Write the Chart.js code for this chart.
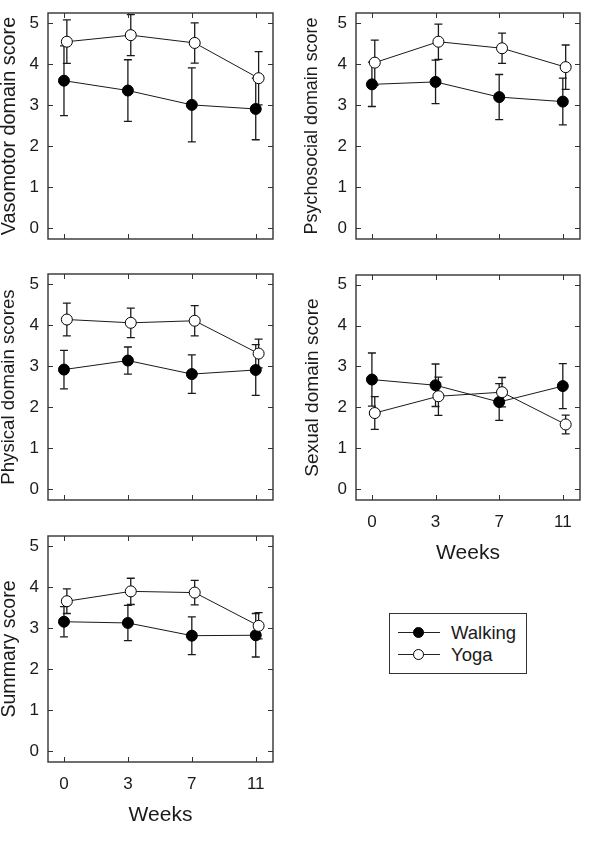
<!DOCTYPE html>
<html><head><meta charset="utf-8">
<script src="https://cdn.jsdelivr.net/npm/chart.js@4/dist/chart.umd.min.js"></script>
<style>
html,body{margin:0;padding:0;background:#fff;}
body{width:593px;height:848px;position:relative;overflow:hidden;font-family:"Liberation Sans",Arial,sans-serif;color:#1a1a1a;}
.pc{position:absolute;}
#legend{position:absolute;left:389px;top:613px;width:138px;height:61px;border:1px solid #333;box-sizing:border-box;}
.lrow{position:absolute;left:0;width:136px;height:22px;}
.lline{position:absolute;left:8px;width:42px;top:10px;height:0;border-top:1px solid #222;}
.ldot{position:absolute;left:23px;top:5px;width:11px;height:11px;border-radius:50%;box-sizing:border-box;border:1px solid #000;}
.ltxt{position:absolute;left:61px;top:0;font-size:18.5px;line-height:21px;}
</style></head><body>
<canvas id="c1" class="pc"></canvas>
<canvas id="c2" class="pc"></canvas>
<canvas id="c3" class="pc"></canvas>
<canvas id="c4" class="pc"></canvas>
<canvas id="c5" class="pc"></canvas>
<div id="legend">
  <div class="lrow" style="top:8px"><div class="lline"></div><div class="ldot" style="background:#000"></div><div class="ltxt">Walking</div></div>
  <div class="lrow" style="top:30px"><div class="lline"></div><div class="ldot" style="background:#fff"></div><div class="ltxt">Yoga</div></div>
</div>
<script>
// ---- data ----
const weekLabels = ['0', '3', '7', '11'];
const yTickValues = [0, 1, 2, 3, 4, 5];
const seriesNames = ['Walking', 'Yoga'];

const vasoWalk = [3.59, 3.35, 3.00, 2.90];
const vasoWalkErr = [0.85, 0.75, 0.90, 0.75];
const vasoYoga = [4.54, 4.70, 4.51, 3.65];
const vasoYogaErr = [0.53, 0.50, 0.49, 0.65];

const psychoWalk = [3.50, 3.56, 3.19, 3.08];
const psychoWalkErr = [0.54, 0.53, 0.55, 0.57];
const psychoYoga = [4.03, 4.54, 4.38, 3.92];
const psychoYogaErr = [0.55, 0.43, 0.37, 0.54];

const physWalk = [2.91, 3.13, 2.80, 2.90];
const physWalkErr = [0.47, 0.33, 0.47, 0.62];
const physYoga = [4.13, 4.05, 4.10, 3.30];
const physYogaErr = [0.40, 0.36, 0.37, 0.35];

const sexWalk = [2.68, 2.54, 2.13, 2.52];
const sexWalkErr = [0.65, 0.52, 0.45, 0.55];
const sexYoga = [1.86, 2.27, 2.37, 1.58];
const sexYogaErr = [0.40, 0.47, 0.36, 0.23];

const sumWalk = [3.15, 3.12, 2.81, 2.82];
const sumWalkErr = [0.37, 0.43, 0.46, 0.53];
const sumYoga = [3.65, 3.89, 3.86, 3.05];
const sumYogaErr = [0.30, 0.32, 0.30, 0.32];

// ---- styling / layout ----
const INK = '#1a1a1a';
const FONT = '"Liberation Sans", Arial, sans-serif';
const YOGA_SHIFT = 0.045;

const panels = [
  {id:'c1', left:0,   top:0,   w:296, h:252, box:{l:48,t:13,r:273,b:239}, title:'Vasomotor domain score', titleSize:19.8, walk:vasoWalk, walkErr:vasoWalkErr, yoga:vasoYoga, yogaErr:vasoYogaErr, showX:false},
  {id:'c2', left:303, top:0,   w:290, h:252, box:{l:53,t:13,r:277,b:239}, title:'Psychosocial domain score', titleSize:17.9, walk:psychoWalk, walkErr:psychoWalkErr, yoga:psychoYoga, yogaErr:psychoYogaErr, showX:false},
  {id:'c3', left:0,   top:260, w:296, h:252, box:{l:48,t:14,r:273,b:240}, title:'Physical domain scores', titleSize:18.6, walk:physWalk, walkErr:physWalkErr, yoga:physYoga, yogaErr:physYogaErr, showX:false},
  {id:'c4', left:303, top:260, w:290, h:310, box:{l:53,t:15,r:277,b:240}, title:'Sexual domain score', titleSize:19.1, walk:sexWalk, walkErr:sexWalkErr, yoga:sexYoga, yogaErr:sexYogaErr, showX:true, weeksPad:6.5},
  {id:'c5', left:0,   top:520, w:296, h:328, box:{l:48,t:16,r:273,b:242}, title:'Summary score', titleSize:19.6, walk:sumWalk, walkErr:sumWalkErr, yoga:sumYoga, yogaErr:sumYogaErr, showX:true, weeksPad:22.5}
];

const framePlugin = {
  id: 'frameAndErrors',
  beforeDatasetsDraw(chart) {
    const ctx = chart.ctx;
    const xs = chart.scales.x, ys = chart.scales.y;
    chart.data.datasets.forEach((ds, di) => {
      if (!chart.isDatasetVisible(di)) return;
      ctx.save();
      ctx.strokeStyle = INK;
      ctx.lineWidth = 1.3;
      ds.data.forEach((p, i) => {
        const e = ds.errorBars[i];
        const px = xs.getPixelForValue(p.x);
        const y1 = ys.getPixelForValue(p.y + e);
        const y2 = ys.getPixelForValue(p.y - e);
        ctx.beginPath();
        ctx.moveTo(px, y1); ctx.lineTo(px, y2);
        ctx.moveTo(px - 4, y1); ctx.lineTo(px + 4, y1);
        ctx.moveTo(px - 4, y2); ctx.lineTo(px + 4, y2);
        ctx.stroke();
      });
      ctx.restore();
    });
  },
  afterDraw(chart) {
    const ctx = chart.ctx;
    const a = chart.chartArea;
    const xs = chart.scales.x, ys = chart.scales.y;
    ctx.save();
    ctx.strokeStyle = '#333';
    ctx.lineWidth = 1.4;
    ctx.strokeRect(a.left, a.top, a.right - a.left, a.bottom - a.top);
    ctx.lineWidth = 1;
    ctx.beginPath();
    const L = 5;
    xs.ticks.forEach(t => {
      const px = Math.round(xs.getPixelForValue(t.value)) + 0.5;
      ctx.moveTo(px, a.bottom); ctx.lineTo(px, a.bottom - L);
      ctx.moveTo(px, a.top); ctx.lineTo(px, a.top + L);
    });
    ys.ticks.forEach(t => {
      const py = Math.round(ys.getPixelForValue(t.value)) + 0.5;
      ctx.moveTo(a.left, py); ctx.lineTo(a.left + L, py);
      ctx.moveTo(a.right, py); ctx.lineTo(a.right - L, py);
    });
    ctx.stroke();
    ctx.restore();
  }
};

panels.forEach(p => {
  const cv = document.getElementById(p.id);
  cv.style.left = p.left + 'px';
  cv.style.top = p.top + 'px';
  cv.style.width = p.w + 'px';
  cv.style.height = p.h + 'px';
  cv.width = p.w; cv.height = p.h;
  const box = p.box;
  new Chart(cv, {
    type: 'line',
    data: {
      datasets: [
        {
          label: seriesNames[1],
          data: p.yoga.map((v, i) => ({x: i + YOGA_SHIFT, y: v})),
          errorBars: p.yogaErr,
          borderColor: INK, borderWidth: 1,
          pointRadius: 5.5, pointBackgroundColor: '#fff', pointBorderColor: '#000', pointBorderWidth: 1,
          order: 0
        },
        {
          label: seriesNames[0],
          data: p.walk.map((v, i) => ({x: i, y: v})),
          errorBars: p.walkErr,
          borderColor: INK, borderWidth: 1,
          pointRadius: 5.5, pointBackgroundColor: '#000', pointBorderColor: '#000', pointBorderWidth: 1,
          order: 1
        }
      ]
    },
    options: {
      responsive: false,
      animation: false,
      devicePixelRatio: 1,
      layout: {padding: {left: 0, top: box.t, right: p.w - box.r, bottom: 0}},
      plugins: {legend: {display: false}, tooltip: {enabled: false}},
      scales: {
        x: {
          type: 'linear', min: -0.25, max: 3.27,
          grid: {display: false, drawTicks: false}, border: {display: false},
          afterBuildTicks: s => { s.ticks = weekLabels.map((_, i) => ({value: i})); },
          afterFit: s => { s.height = p.h - box.b; s.paddingLeft = 0; s.paddingRight = 0; },
          ticks: {display: p.showX, padding: 12, color: INK, font: {family: FONT, size: 17},
                  callback: v => weekLabels[v], maxRotation: 0, autoSkip: false},
          title: {display: p.showX, text: 'Weeks', color: INK, font: {family: FONT, size: 21, lineHeight: 1},
                  padding: {top: 0, bottom: p.weeksPad || 0}}
        },
        y: {
          type: 'linear', min: -0.27, max: 5.24,
          grid: {display: false, drawTicks: false}, border: {display: false},
          afterBuildTicks: s => { s.ticks = yTickValues.map(v => ({value: v})); },
          afterFit: s => { s.width = box.l; s.paddingTop = 0; s.paddingBottom = 0; },
          ticks: {padding: 9, color: INK, font: {family: FONT, size: 17}, callback: v => String(v)},
          title: {display: true, text: p.title, color: INK, font: {family: FONT, size: p.titleSize, lineHeight: 1},
                  padding: {top: 0, bottom: 0}}
        }
      }
    },
    plugins: [framePlugin]
  });
});
</script>
</body></html>
